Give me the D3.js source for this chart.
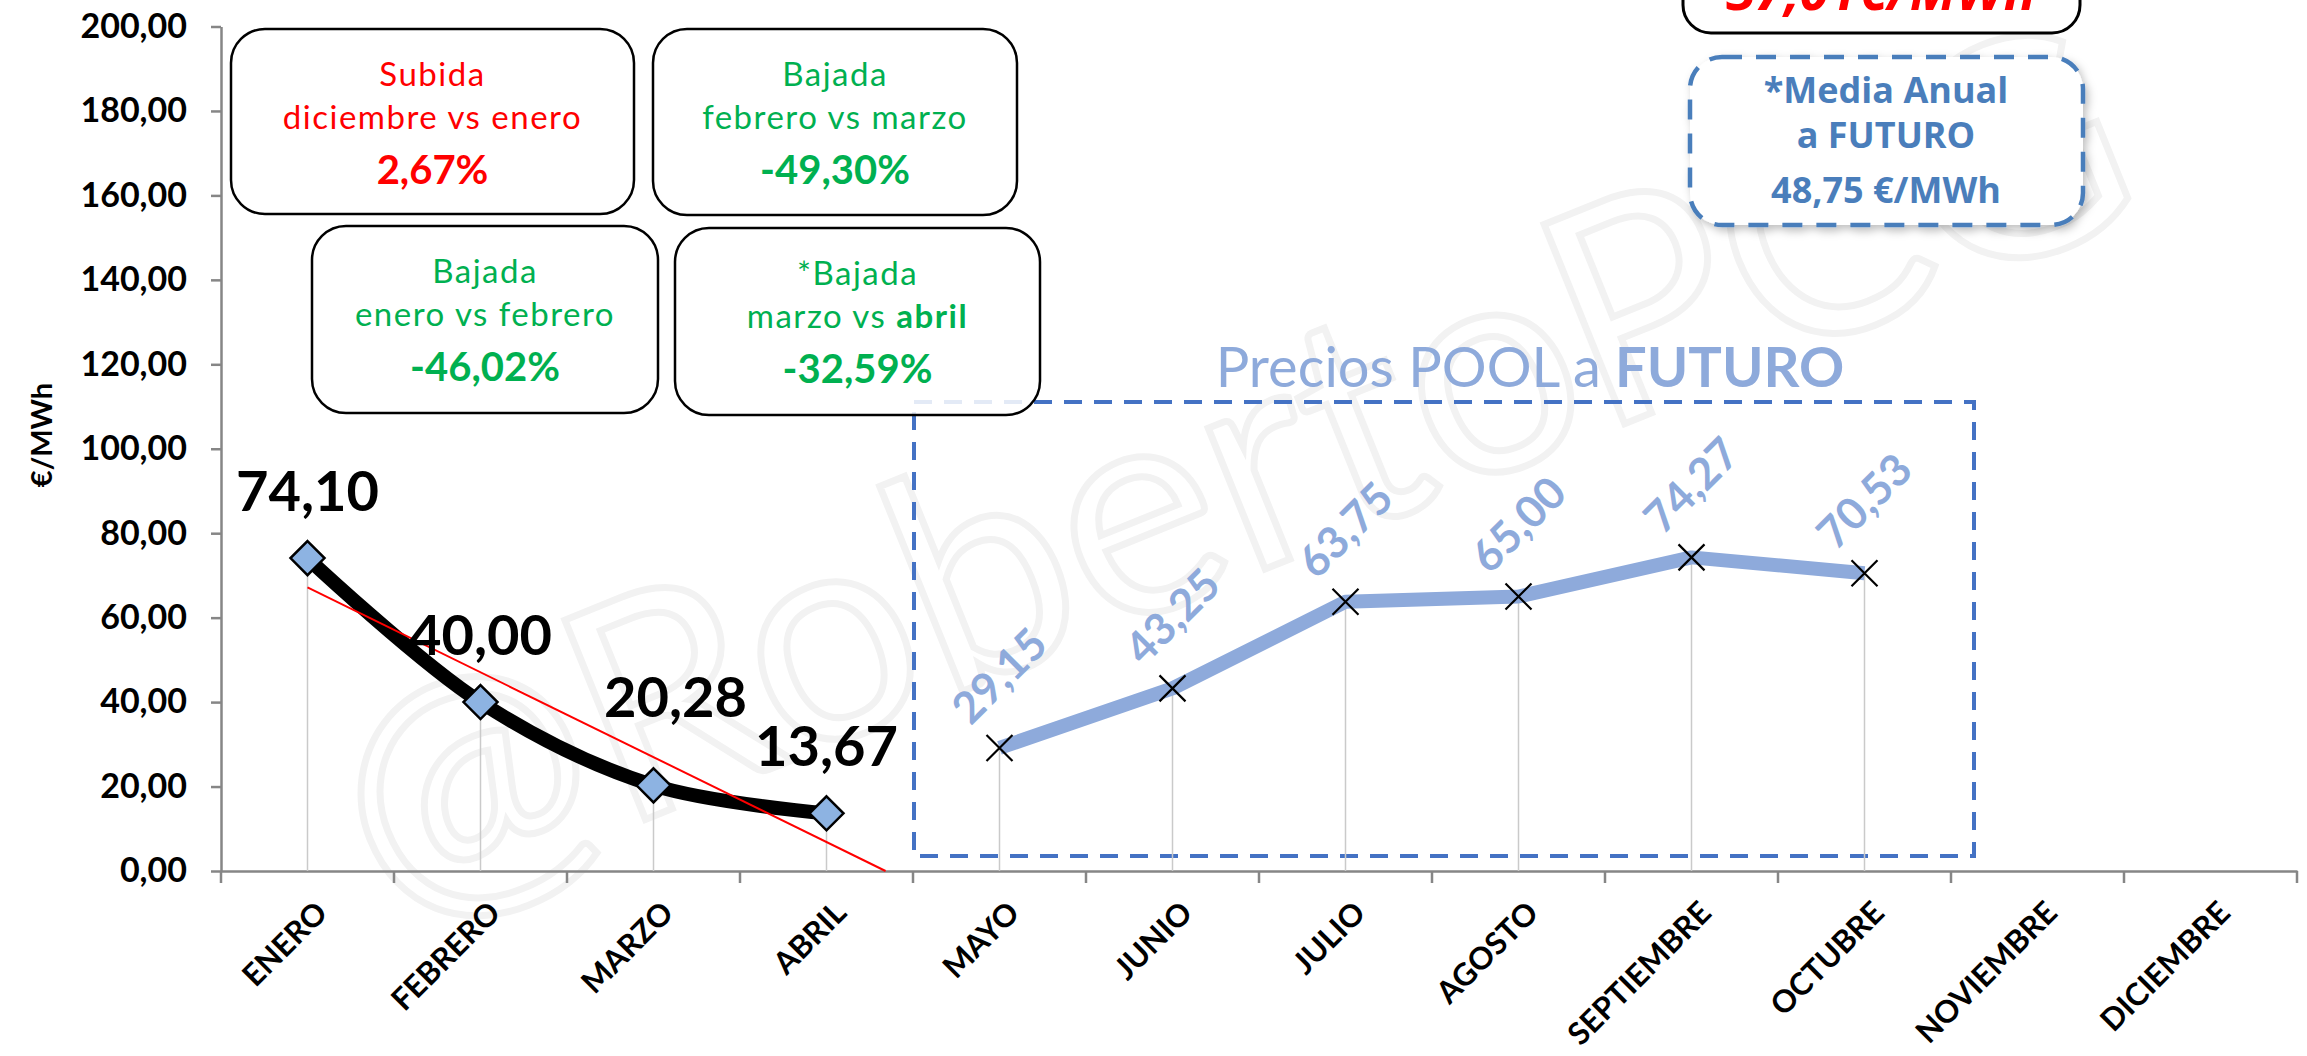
<!DOCTYPE html>
<html>
<head>
<meta charset="utf-8">
<title>Precios POOL</title>
<script src="https://cdn.jsdelivr.net/npm/d3@7"></script>
<style>
  body { margin: 0; background: #fff; }
  svg { display: block; }
  .axis text { font-family: Lato, sans-serif; font-weight: bold; fill: #000; }
  .axis path, .axis line { stroke: #868686; stroke-width: 2.5px; }
  .box text { font-family: Lato, sans-serif; }
</style>
</head>
<body>
<div id="chart"></div>
<script>
// datos
var months = ["ENERO", "FEBRERO", "MARZO", "ABRIL", "MAYO", "JUNIO", "JULIO",
  "AGOSTO", "SEPTIEMBRE", "OCTUBRE", "NOVIEMBRE", "DICIEMBRE"];
var realMonths = ["ENERO", "FEBRERO", "MARZO", "ABRIL"];
var realValues = [74.10, 40.00, 20.28, 13.67];
var futureMonths = ["MAYO", "JUNIO", "JULIO", "AGOSTO", "SEPTIEMBRE", "OCTUBRE"];
var futureValues = [29.15, 43.25, 63.75, 65.00, 74.27, 70.53];
var yTicks = [0, 20, 40, 60, 80, 100, 120, 140, 160, 180, 200];

var boxTitles = ["Subida", "Bajada", "Bajada", "*Bajada"];
var boxSubtitles = ["diciembre vs enero", "febrero vs marzo", "enero vs febrero", "marzo vs "];
var boxSubBold = ["", "", "", "abril"];
var boxValues = ["2,67%", "-49,30%", "-46,02%", "-32,59%"];
var boxColors = ["#ff0000", "#00b050", "#00b050", "#00b050"];

var mediaReal = "37,01€/MWh";
var mediaFuturo = ["*Media Anual", "a FUTURO", "48,75 €/MWh"];

var width = 2307, height = 1056;
var m = { left: 221, right: 2297, top: 26.5, bottom: 871 };

var svg = d3.select("#chart").append("svg")
  .attr("width", width)
  .attr("height", height);

var defs = svg.append("defs");
var sh = defs.append("filter").attr("id", "shadow")
  .attr("x", "-10%").attr("y", "-10%").attr("width", "130%").attr("height", "130%");
sh.append("feDropShadow").attr("dx", 3).attr("dy", 4).attr("stdDeviation", 4)
  .attr("flood-color", "#000").attr("flood-opacity", 0.25);

// marca de agua
svg.append("text")
  .attr("transform", "translate(1230,470) rotate(-22)")
  .attr("text-anchor", "middle")
  .attr("dy", "0.35em")
  .style("font-family", "Lato, sans-serif")
  .style("font-size", "300px")
  .style("fill", "none")
  .style("stroke", "#f2f2f2")
  .style("stroke-width", 7)
  .text("@RobertoPCG");

var x = d3.scaleBand().domain(months).range([m.left, m.right]);
var y = d3.scaleLinear().domain([0, 200]).range([m.bottom, m.top]);
var cx = function(d) { return x(d) + x.bandwidth() / 2; };
var fmt = function(v) { return d3.format(".2f")(v).replace(".", ","); };

// ejes
var yAxis = svg.append("g").attr("class", "axis")
  .attr("transform", "translate(" + m.left + ",0)")
  .call(d3.axisLeft(y).tickValues(yTicks).tickFormat(fmt).tickSize(10).tickSizeOuter(0).tickPadding(24));
yAxis.selectAll("text").style("font-size", "34px");

var xAxis = svg.append("g").attr("class", "axis")
  .attr("transform", "translate(0," + m.bottom + ")")
  .call(d3.axisBottom(x).tickSize(0).tickSizeOuter(0));
xAxis.selectAll("text")
  .attr("x", 0).attr("y", 0).attr("dy", "0.35em")
  .attr("text-anchor", "end")
  .attr("transform", "translate(14,36) rotate(-45)")
  .style("font-size", "31px");
xAxis.selectAll(".bound")
  .data(d3.range(months.length + 1))
  .enter().append("line")
  .attr("x1", function(i) { return m.left + i * x.bandwidth(); })
  .attr("x2", function(i) { return m.left + i * x.bandwidth(); })
  .attr("y1", 0).attr("y2", 12);

svg.append("text")
  .attr("transform", "translate(42,435) rotate(-90)")
  .attr("text-anchor", "middle")
  .attr("dy", "0.35em")
  .style("font-family", "Lato, sans-serif")
  .style("font-weight", "bold")
  .style("font-size", "29px")
  .text("€/MWh");

// recuadro futuro
svg.append("rect")
  .attr("x", 914).attr("y", 402).attr("width", 1060).attr("height", 454)
  .style("fill", "none").style("stroke", "#4472c4")
  .style("stroke-width", 4).style("stroke-dasharray", "18,12");

svg.append("text")
  .attr("x", 1530).attr("y", 387)
  .attr("text-anchor", "middle")
  .style("font-family", "Lato, sans-serif")
  .style("font-size", "56px")
  .style("fill", "#8eaadb")
  .call(function(t) {
    t.append("tspan").text("Precios POOL a ");
    t.append("tspan").style("font-weight", "bold").text("FUTURO");
  });

// lineas de proyeccion
var allMonths = realMonths.concat(futureMonths);
var allValues = realValues.concat(futureValues);
svg.selectAll(".drop")
  .data(allMonths)
  .enter().append("line")
  .attr("x1", function(d) { return cx(d); })
  .attr("x2", function(d) { return cx(d); })
  .attr("y1", function(d, i) { return y(allValues[i]); })
  .attr("y2", m.bottom)
  .style("stroke", "#cacaca").style("stroke-width", 1.5);

// serie futuro
var lineF = d3.line()
  .x(function(d, i) { return cx(futureMonths[i]); })
  .y(function(d) { return y(d); });
svg.append("path").datum(futureValues)
  .attr("d", lineF)
  .style("fill", "none").style("stroke", "#8eaadb")
  .style("stroke-width", 14).style("stroke-linejoin", "round");

svg.selectAll(".xmark")
  .data(futureValues)
  .enter().append("path")
  .attr("transform", function(d, i) { return "translate(" + cx(futureMonths[i]) + "," + y(d) + ")"; })
  .attr("d", "M-13,-13L13,13M-13,13L13,-13")
  .style("stroke", "#000").style("stroke-width", 2.2).style("fill", "none");

svg.selectAll(".flabel")
  .data(futureValues)
  .enter().append("text")
  .attr("transform", function(d, i) {
    return "translate(" + cx(futureMonths[i]) + "," + (y(d) - 72) + ") rotate(-45)";
  })
  .attr("text-anchor", "middle")
  .attr("dy", "0.35em")
  .style("font-family", "Lato, sans-serif")
  .style("font-weight", "bold")
  .style("font-size", "44px")
  .style("fill", "#8eaadb")
  .text(fmt);

// serie real
var lineR = d3.line()
  .curve(d3.curveCatmullRom.alpha(0.5))
  .x(function(d, i) { return cx(realMonths[i]); })
  .y(function(d) { return y(d); });
svg.append("path").datum(realValues)
  .attr("d", lineR)
  .style("fill", "none").style("stroke", "#000")
  .style("stroke-width", 14).style("stroke-linejoin", "round");

// tendencia lineal
var n = realValues.length;
var mx = d3.mean(d3.range(n)), my = d3.mean(realValues);
var sxy = d3.sum(realValues, function(v, i) { return (i - mx) * (v - my); });
var sxx = d3.sum(d3.range(n), function(i) { return (i - mx) * (i - mx); });
var slope = sxy / sxx, icpt = my - slope * mx;
var xi = function(i) { return m.left + (i + 0.5) * x.bandwidth(); };
var iZero = -icpt / slope;
svg.append("line")
  .attr("x1", xi(0)).attr("y1", y(icpt))
  .attr("x2", xi(iZero)).attr("y2", y(0))
  .style("stroke", "#ff0000").style("stroke-width", 2);

svg.selectAll(".diamond")
  .data(realValues)
  .enter().append("path")
  .attr("transform", function(d, i) { return "translate(" + cx(realMonths[i]) + "," + y(d) + ")"; })
  .attr("d", "M0,-17L17,0L0,17L-17,0Z")
  .style("fill", "#8db3e2").style("stroke", "#000").style("stroke-width", 2.5);

svg.selectAll(".rlabel")
  .data(realValues)
  .enter().append("text")
  .attr("x", function(d, i) { return cx(realMonths[i]) + (i === 2 ? 22 : 0); })
  .attr("y", function(d, i) { return y(d) - (i === 2 ? 68 : 47); })
  .attr("text-anchor", "middle")
  .style("font-family", "Lato, sans-serif")
  .style("font-weight", "bold")
  .style("font-size", "56px")
  .text(fmt);

// recuadros de variacion
var boxRects = [[231, 29, 403, 185], [653, 29, 364, 186], [312, 226, 346, 187], [675, 228, 365, 187]];
var boxes = svg.selectAll(".box")
  .data(boxTitles)
  .enter().append("g").attr("class", "box")
  .attr("transform", function(d, i) { return "translate(" + boxRects[i][0] + "," + boxRects[i][1] + ")"; });
boxes.append("rect")
  .attr("width", function(d, i) { return boxRects[i][2]; })
  .attr("height", function(d, i) { return boxRects[i][3]; })
  .attr("rx", 34)
  .style("fill", "#fff").style("fill-opacity", 0.85)
  .style("stroke", "#000").style("stroke-width", 2.5);
boxes.append("text")
  .attr("x", function(d, i) { return boxRects[i][2] / 2; })
  .attr("y", 57)
  .attr("text-anchor", "middle")
  .style("font-size", "33px").style("letter-spacing", "1.5px")
  .style("fill", function(d, i) { return boxColors[i]; })
  .text(function(d) { return d; });
boxes.append("text")
  .attr("x", function(d, i) { return boxRects[i][2] / 2; })
  .attr("y", 100)
  .attr("text-anchor", "middle")
  .style("font-size", "33px").style("letter-spacing", "1.5px")
  .style("fill", function(d, i) { return boxColors[i]; })
  .each(function(d, i) {
    var t = d3.select(this);
    t.append("tspan").text(boxSubtitles[i]);
    if (boxSubBold[i]) t.append("tspan").style("font-weight", "bold").text(boxSubBold[i]);
  });
boxes.append("text")
  .attr("x", function(d, i) { return boxRects[i][2] / 2; })
  .attr("y", 155)
  .attr("text-anchor", "middle")
  .style("font-size", "40px").style("font-weight", "bold")
  .style("fill", function(d, i) { return boxColors[i]; })
  .text(function(d, i) { return boxValues[i]; });

// medias
svg.append("rect")
  .attr("x", 1683).attr("y", -80).attr("width", 397).attr("height", 113).attr("rx", 28)
  .style("fill", "#fff").style("stroke", "#000").style("stroke-width", 3);
svg.append("text")
  .attr("x", 1881).attr("y", 10)
  .attr("text-anchor", "middle")
  .style("font-family", "Open Sans, sans-serif")
  .style("font-weight", "bold").style("font-style", "italic")
  .style("font-size", "53px").style("fill", "#ff0000")
  .text(mediaReal);

svg.append("rect")
  .attr("x", 1690).attr("y", 57).attr("width", 393).attr("height", 168).attr("rx", 32)
  .attr("filter", "url(#shadow)")
  .style("fill", "#fff").style("stroke", "#4a7ebb")
  .style("stroke-width", 4.5).style("stroke-dasharray", "20,14");
svg.selectAll(".media")
  .data(mediaFuturo)
  .enter().append("text")
  .attr("x", 1886)
  .attr("y", function(d, i) { return [103, 148, 203][i]; })
  .attr("text-anchor", "middle")
  .style("font-family", "Open Sans, sans-serif")
  .style("font-weight", "bold")
  .style("font-size", "36px").style("fill", "#4a7ebb")
  .text(function(d) { return d; });
</script>
</body>
</html>
